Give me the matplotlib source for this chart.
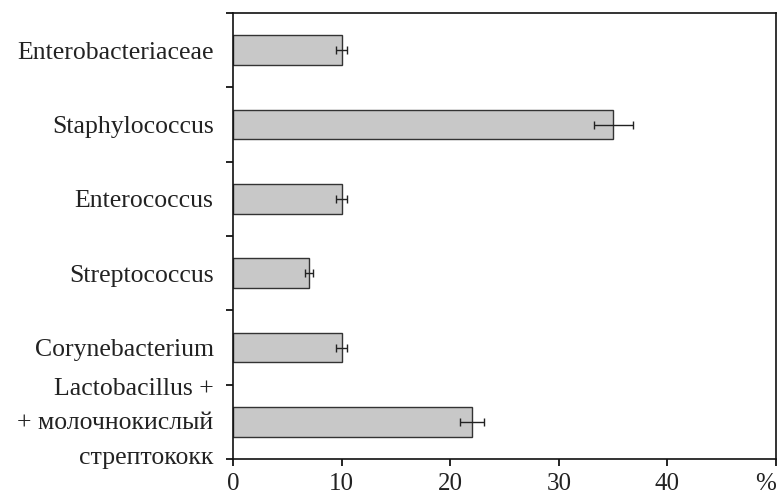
import matplotlib.pyplot as plt
import numpy as np

categories = [
    "Enterobacteriaceae",
    "Staphylococcus",
    "Enterococcus",
    "Streptococcus",
    "Corynebacterium",
    "Lactobacillus +\n+ молочнокислый\nстрептококк",
]
values = [10, 35, 10, 7, 10, 22]
errors = [0.5, 1.8, 0.5, 0.4, 0.5, 1.1]
xticks = [0, 10, 20, 30, 40, 50]
xtick_labels = ["0", "10", "20", "30", "40", "%"]

plt.rcParams["font.family"] = ["Liberation Serif", "DejaVu Serif"]

fig = plt.figure(figsize=(7.79, 4.97), dpi=100)
ax = fig.add_axes([233 / 779, 1 - 459 / 497, (776 - 233) / 779, (459 - 13) / 497])

y = np.arange(len(categories))
ax.barh(y, values, height=0.4, color="#c8c8c8", edgecolor="#333333",
        linewidth=1.0, zorder=2)
ax.errorbar(values, y, xerr=errors, fmt="none", ecolor="#222222",
            elinewidth=1.0, capsize=3, capthick=1.0, zorder=3)

ax.set_xlim(0, 50)
ax.set_ylim(len(categories) - 0.5, -0.5)

# label positions: the three-line label sits a bit higher than its bar
label_pos = y.astype(float)
label_pos[-1] -= 0.1
ax.set_yticks(label_pos)
ax.set_yticklabels(categories, linespacing=1.75)
ax.set_yticks(np.arange(-0.5, len(categories), 1.0), minor=True)
ax.tick_params(axis="y", which="major", length=0, pad=14, labelsize=18.5,
               labelcolor="#222222")
ax.tick_params(axis="y", which="minor", length=5, width=1.2, direction="out")

ax.set_xticks(xticks)
ax.set_xticklabels(xtick_labels)
ax.tick_params(axis="x", length=5, width=1.2, direction="out", pad=5,
               labelsize=18, labelcolor="#222222")
ax.get_xticklabels()[-1].set_horizontalalignment("right")

for s in ax.spines.values():
    s.set_linewidth(1.2)
    s.set_color("#111111")

fig.savefig("out.png", dpi=100)
